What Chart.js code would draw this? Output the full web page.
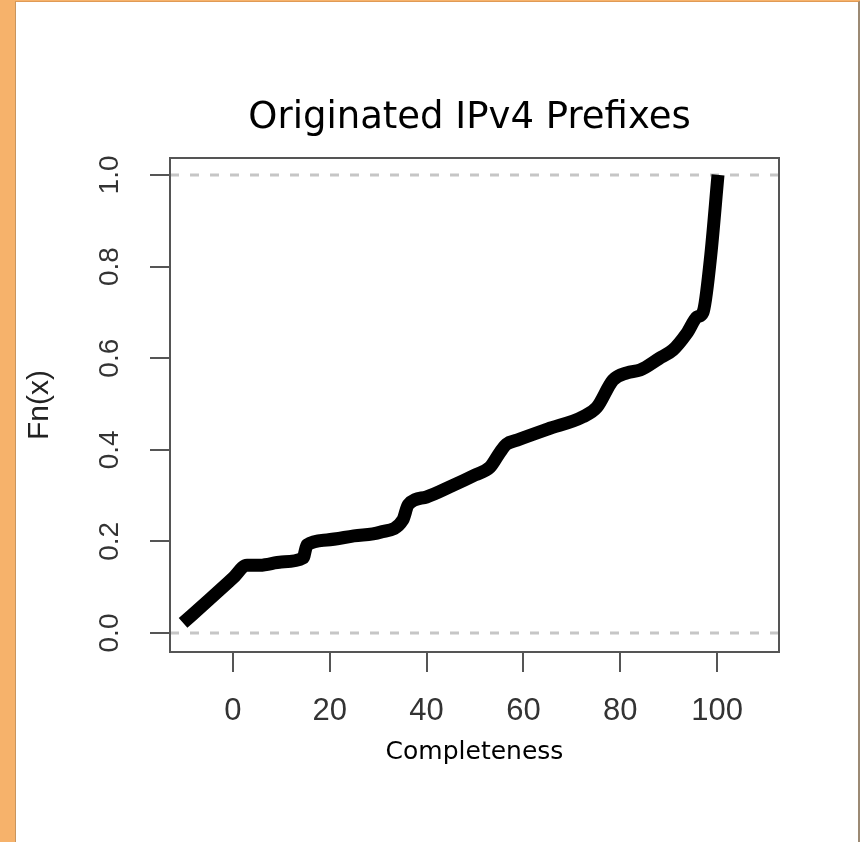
<!DOCTYPE html>
<html lang="en">
<head>
    <meta charset="UTF-8">
    <title>Originated IPv4 Prefixes</title>
    <script src="https://cdn.jsdelivr.net/npm/chart.js"></script>
    <style>
        html, body { margin: 0; padding: 0; }
        body { background: #f6b26b; width: 860px; height: 842px; position: relative; overflow: hidden; }
        #panel {
            position: absolute; left: 15px; top: 1px;
            width: 842px; height: 841px;
            background: #fff;
            border-left: 1px solid #c8955e;
            border-top: 1px solid #e09a55;
            border-right: 2px solid #9c8a74;
        }
    </style>
</head>
<body>
    <div id="panel"><canvas id="ecdfChart" width="842" height="840"></canvas></div>

    <script>
        // ECDF
        const completeness = [-10.3, -5, 0, 2.9, 5.6, 10, 14.5, 15.3, 19.4, 25, 30.4, 35.1, 36.2, 40, 45, 50, 53.1, 55.2, 56.5, 58.7, 65, 72.3, 75.2, 78.5, 81.4, 84.1, 88, 90.9, 93.8, 95.9, 97.1, 98.6, 100.2];
        const fn = [0.022, 0.072, 0.12, 0.148, 0.148, 0.155, 0.164, 0.192, 0.203, 0.212, 0.22, 0.247, 0.28, 0.297, 0.32, 0.345, 0.362, 0.395, 0.412, 0.421, 0.445, 0.472, 0.493, 0.552, 0.568, 0.574, 0.599, 0.618, 0.655, 0.69, 0.70, 0.814, 1.0];

        const xTicks = [0, 20, 40, 60, 80, 100];
        const yTicks = [0, 0.2, 0.4, 0.6, 0.8, 1.0];
        const yTickLabels = ['0.0', '0.2', '0.4', '0.6', '0.8', '1.0'];
        const refLevels = [0, 1];
        const chartTitle = 'Originated IPv4 Prefixes';

        const xMin = -13.0, xMax = 112.8;
        const yMin = -0.0415, yMax = 1.037;

        const curve = completeness.map((x, i) => ({ x: x, y: fn[i] }));

        const refSets = refLevels.map(v => ({
            data: [{ x: xMin, y: v }, { x: xMax, y: v }],
            borderColor: '#c6c6c6',
            borderWidth: 3,
            borderDash: [9, 11],
            pointRadius: 0
        }));

        // box round the plot, title over the plot, rotated y tick labels (like R)
        const rStyle = {
            id: 'rStyle',
            afterDraw(chart) {
                const ctx = chart.ctx;
                const a = chart.chartArea;
                ctx.save();
                ctx.strokeStyle = '#555';
                ctx.lineWidth = 2;
                ctx.strokeRect(a.left, a.top, a.right - a.left, a.bottom - a.top);

                ctx.fillStyle = '#000';
                ctx.font = '37px "Comic Sans MS", "DejaVu Sans", sans-serif';
                ctx.textAlign = 'center';
                ctx.textBaseline = 'middle';
                ctx.fillText(chartTitle, (a.left + a.right) / 2 - 5, a.top - 40);

                const y = chart.scales.y;
                ctx.fillStyle = '#333';
                ctx.font = '28px "Liberation Sans", Arial, sans-serif';
                yTicks.forEach((v, i) => {
                    ctx.save();
                    ctx.translate(94, y.getPixelForValue(v));
                    ctx.rotate(-Math.PI / 2);
                    ctx.fillText(yTickLabels[i], 0, 0);
                    ctx.restore();
                });
                ctx.restore();
            }
        };

        new Chart(document.getElementById('ecdfChart'), {
            type: 'line',
            data: {
                datasets: [{
                    data: curve,
                    borderColor: '#000',
                    borderWidth: 13,
                    borderCapStyle: 'butt',
                    borderJoinStyle: 'round',
                    cubicInterpolationMode: 'monotone',
                    pointRadius: 0
                }].concat(refSets)
            },
            options: {
                responsive: false,
                animation: false,
                layout: { padding: { left: 0, right: 79, top: 156, bottom: 70 } },
                plugins: {
                    legend: { display: false },
                    tooltip: { enabled: false },
                    title: { display: false }
                },
                scales: {
                    x: {
                        type: 'linear',
                        min: xMin,
                        max: xMax,
                        afterBuildTicks: s => { s.ticks = xTicks.map(v => ({ value: v })); },
                        afterFit: s => { s.height = 120; },
                        border: { display: false },
                        grid: { drawOnChartArea: false, drawTicks: true, tickLength: 20, color: '#555', lineWidth: 2 },
                        ticks: {
                            color: '#333',
                            padding: 21,
                            maxRotation: 0,
                            font: { family: '"Liberation Sans", Arial, sans-serif', size: 31 },
                            callback: v => String(v)
                        },
                        title: {
                            display: true,
                            text: 'Completeness',
                            color: '#000',
                            font: { family: '"Comic Sans MS", "DejaVu Sans", sans-serif', size: 25 },
                            padding: { top: 0, bottom: 5 }
                        }
                    },
                    y: {
                        min: yMin,
                        max: yMax,
                        afterBuildTicks: s => { s.ticks = yTicks.map(v => ({ value: v })); },
                        afterFit: s => { s.width = 154; },
                        border: { display: false },
                        grid: { drawOnChartArea: false, drawTicks: true, tickLength: 20, color: '#555', lineWidth: 2 },
                        ticks: { display: false },
                        title: {
                            display: true,
                            text: 'Fn(x)',
                            color: '#222',
                            font: { family: '"Liberation Sans", Arial, sans-serif', size: 30 },
                            padding: { top: 6, bottom: 0 }
                        }
                    }
                }
            },
            plugins: [rStyle]
        });
    </script>
</body>
</html>
